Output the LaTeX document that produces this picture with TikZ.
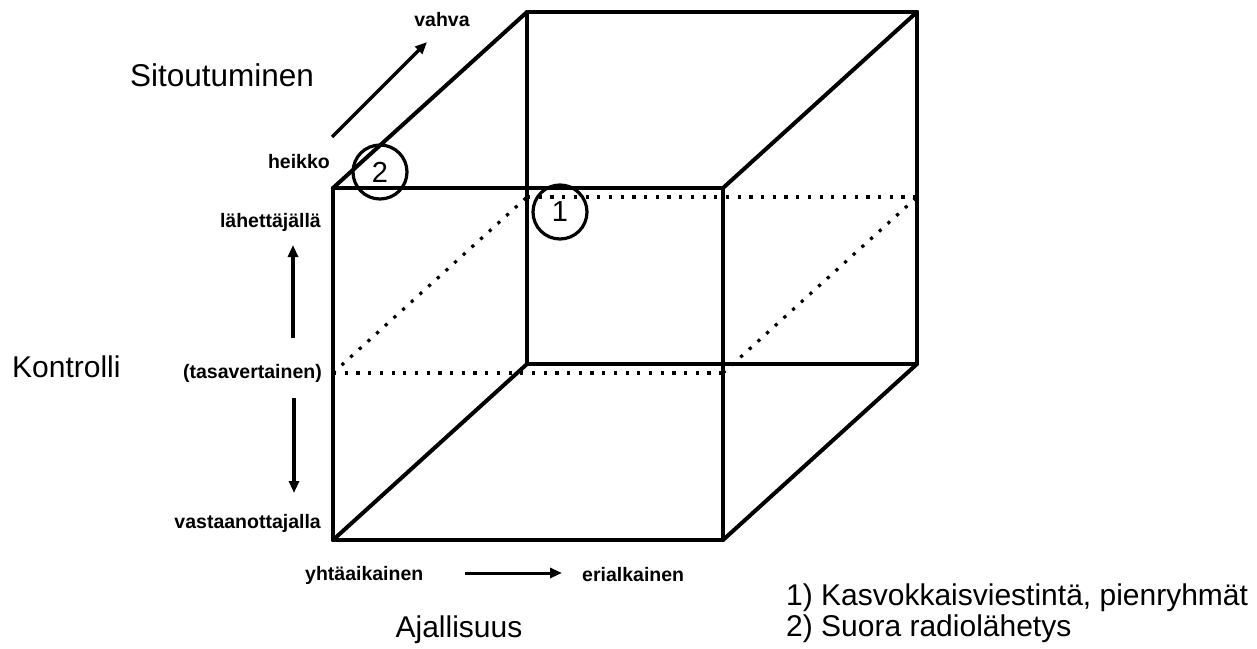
\documentclass[tikz,border=0pt]{standalone}
\usepackage{fontspec}
\setmainfont{Liberation Sans}
\usetikzlibrary{arrows.meta}
\tikzset{
  edge/.style={line width=4pt, line join=round, line cap=round},
  dots/.style={line width=3.2pt, dash pattern=on 3.2pt off 8.5pt},
  axis/.style={line width=3.4pt, -{Triangle[length=12pt,width=10pt]}},
  small/.style={font=\bfseries\fontsize{19.5}{22}\selectfont, inner sep=0pt},
  big/.style={font=\fontsize{30}{33}\selectfont, inner sep=0pt},
  mark circle/.style={circle, draw, line width=3.2pt, minimum size=54pt, inner sep=0pt, font=\fontsize{29}{30}\selectfont},
}
\begin{document}
\begin{tikzpicture}[x=1pt,y=-1pt]
\useasboundingbox (0,0) rectangle (1257,648);
% cube corners
\coordinate (F1) at (333,188);
\coordinate (F2) at (723,188);
\coordinate (F3) at (723,540);
\coordinate (F4) at (333,540);
\coordinate (B1) at (527,12);
\coordinate (B2) at (917,12);
\coordinate (B3) at (917,364);
\coordinate (B4) at (527,364);
% mid plane
\coordinate (M1) at (333,373);
\coordinate (M2) at (723,373);
\coordinate (M3) at (917,197);
\coordinate (M4) at (527,197);
\draw[dots] (M1) -- (M2);
\draw[dots] (M4) -- (M3);
\draw[dots] (M1) -- (M4);
\draw[dots] (M2) -- (M3);
% cube edges
\draw[edge] (F1) -- (F2) -- (F3) -- (F4) -- cycle;
\draw[edge] (B1) -- (B2) -- (B3) -- (B4) -- cycle;
\draw[edge] (F1) -- (B1);
\draw[edge] (F2) -- (B2);
\draw[edge] (F3) -- (B3);
\draw[edge] (F4) -- (B4);
% circles
\node[mark circle] (c2) at (380,172) {2};
\node[mark circle] (c1) at (560,212) {1};
% Sitoutuminen
\node[big, font=\fontsize{31.5}{33}\selectfont] (sit) at (222,75) {Sitoutuminen};
\node[small, anchor=east] (heikko) at (330,162) {heikko};
\node[small] (vahva) at (442,20) {vahva};
\coordinate (sa) at (332,137);
\coordinate (sb) at (427,42);
\draw[axis] (sa) -- (sb);
% Kontrolli
\node[big, anchor=west] (kon) at (12,367) {Kontrolli};
\node[small, anchor=east] (lah) at (321,222) {lähettäjällä};
\node[small, anchor=east] (tasa) at (322,373) {(tasavertainen)};
\node[small, anchor=east] (vast) at (321,523) {vastaanottajalla};
\coordinate (ku1) at (293,338);
\coordinate (ku2) at (293,245);
\coordinate (kd1) at (294,398);
\coordinate (kd2) at (294,493);
\draw[axis] (ku1) -- (ku2);
\draw[axis] (kd1) -- (kd2);
% Ajallisuus
\node[small, anchor=west] (yht) at (305,575) {yhtäaikainen};
\node[small, anchor=west] (eri) at (582,575) {erialkainen};
\coordinate (a1) at (465,573);
\coordinate (a2) at (562,573);
\draw[axis, line width=3pt] (a1) -- (a2);
\node[big] (aja) at (459,630) {Ajallisuus};
% legend
\node[big, anchor=west, align=left, font=\fontsize{30}{31}\selectfont] (leg) at (786,613) {1) Kasvokkaisviestintä, pienryhmät\\2) Suora radiolähetys};
\end{tikzpicture}
\end{document}
